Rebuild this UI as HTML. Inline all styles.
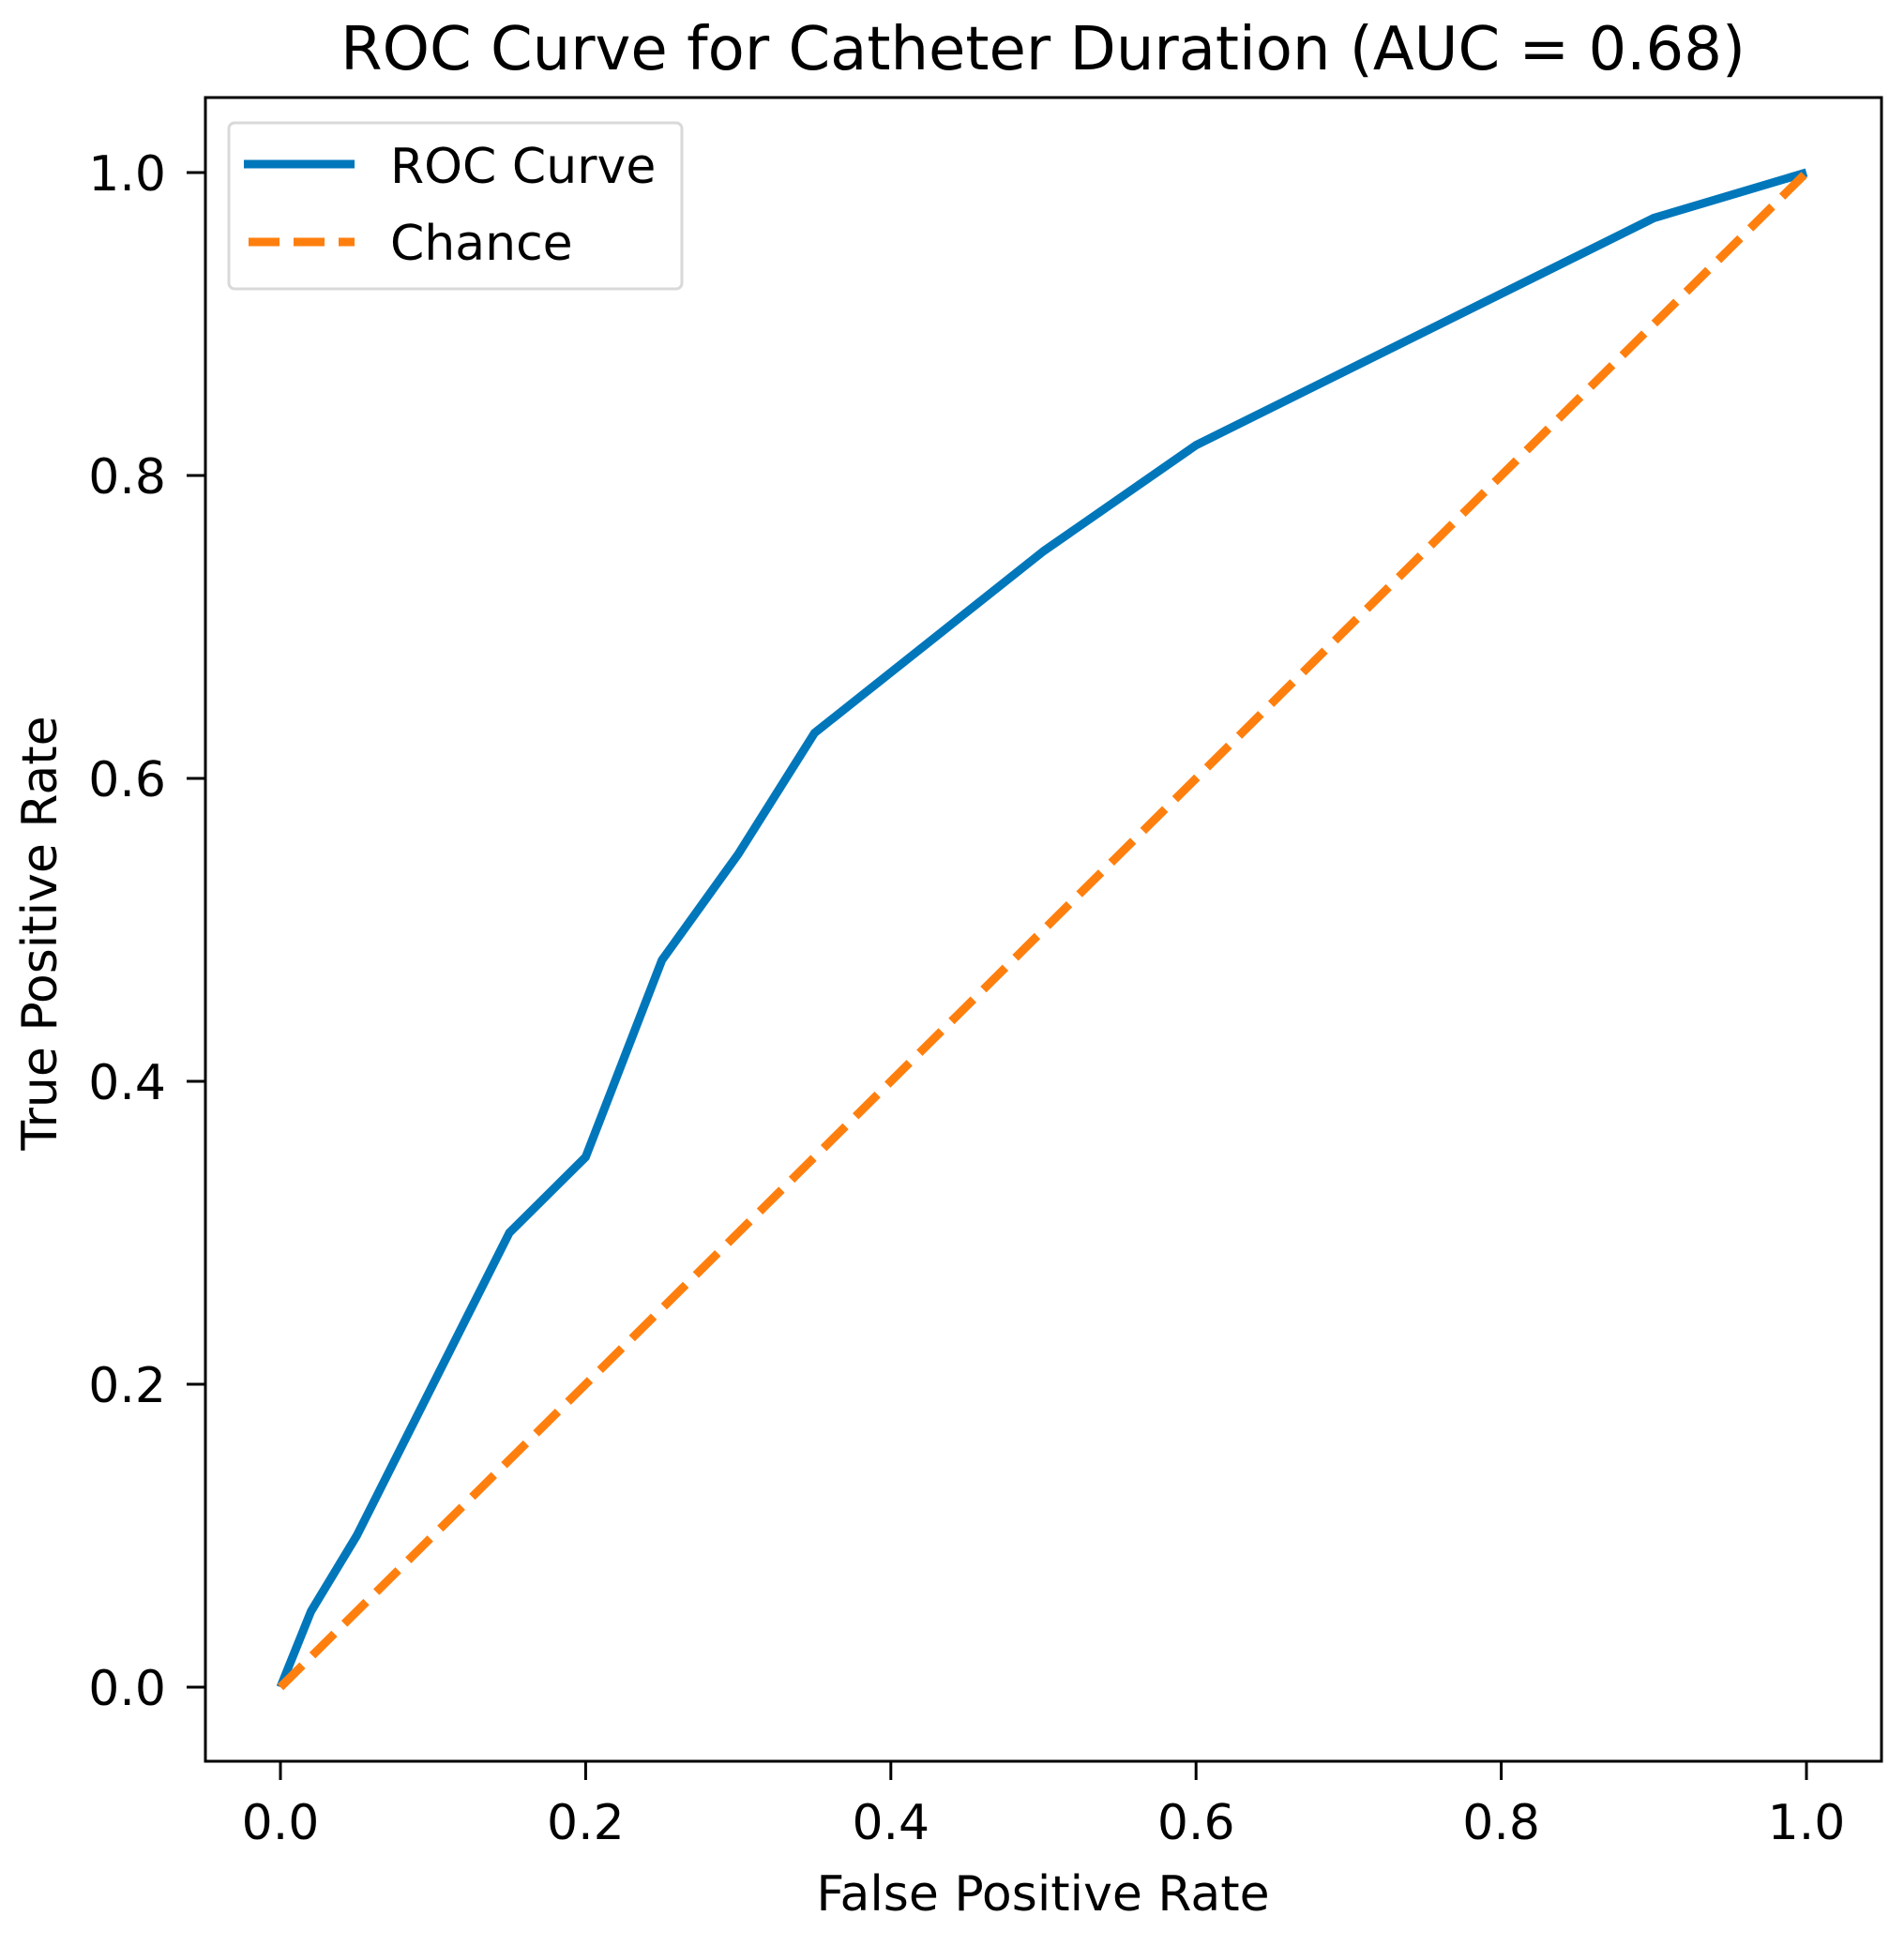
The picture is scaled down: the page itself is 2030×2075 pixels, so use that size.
<!DOCTYPE html>
<html><head><meta charset="utf-8"><style>
html,body{margin:0;padding:0;background:#fff;}
svg text{font-family:"DejaVu Sans","Liberation Sans",sans-serif;fill:#000;}
</style></head><body>
<svg id="chart" width="2030" height="2070" viewBox="0 0 2030 2070" xmlns="http://www.w3.org/2000/svg">
<rect width="2030" height="2070" fill="#fff"/>
<text x="1112" y="74" font-size="64" text-anchor="middle">ROC Curve for Catheter Duration (AUC = 0.68)</text>
<g id="plot"></g>
<rect x="219" y="104" width="1787" height="1774" fill="none" stroke="#000" stroke-width="3"/>
<g id="ticks"></g>
<text x="1112" y="2037" font-size="52" text-anchor="middle">False Positive Rate</text>
<text x="0" y="0" font-size="52" text-anchor="middle" transform="translate(60,995) rotate(-90)">True Positive Rate</text>
<g>
<rect x="244" y="131" width="483" height="177" rx="6" fill="#fff" stroke="#d9d9d9" stroke-width="3"/>
<line x1="260" y1="175" x2="378" y2="175" stroke="#0077bb" stroke-width="9"/>
<text x="416" y="195" font-size="52">ROC Curve</text>
<line x1="265" y1="258" x2="378" y2="258" stroke="#ff7f0e" stroke-width="9" stroke-dasharray="33,15"/>
<text x="416" y="277" font-size="52">Chance</text>
</g>
</svg>
<script>
const fprValues = [0, 0.02, 0.05, 0.15, 0.2, 0.25, 0.3, 0.35, 0.5, 0.6, 0.9, 1.0];
const tprValues = [0, 0.05, 0.1, 0.3, 0.35, 0.48, 0.55, 0.63, 0.75, 0.82, 0.97, 1.0];
const chanceX = [0, 1];
const chanceY = [0, 1];
const xTickLabels = ["0.0","0.2","0.4","0.6","0.8","1.0"];
const yTickLabels = ["0.0","0.2","0.4","0.6","0.8","1.0"];

const NS = "http://www.w3.org/2000/svg";
const X0 = 299, X1 = 1926, Y0 = 1799, Y1 = 184;
function sx(v){ return X0 + v * (X1 - X0); }
function sy(v){ return Y0 - v * (Y0 - Y1); }
const plot = document.getElementById('plot');
const ticks = document.getElementById('ticks');

const chance = document.createElementNS(NS, 'polyline');
chance.setAttribute('points', chanceX.map((x,i)=>sx(x)+','+sy(chanceY[i])).join(' '));
chance.setAttribute('fill','none'); chance.setAttribute('stroke','#ff7f0e');
chance.setAttribute('stroke-width','9'); chance.setAttribute('stroke-dasharray','33,15');



const roc = document.createElementNS(NS, 'polyline');
roc.setAttribute('points', fprValues.map((x,i)=>sx(x)+','+sy(tprValues[i])).join(' '));
roc.setAttribute('fill','none'); roc.setAttribute('stroke','#0077bb');
roc.setAttribute('stroke-width','9'); roc.setAttribute('stroke-linejoin','round');


plot.appendChild(roc);
plot.appendChild(chance);

xTickLabels.forEach(lbl => {
  const v = parseFloat(lbl), x = sx(v);
  const t = document.createElementNS(NS,'line');
  t.setAttribute('x1',x); t.setAttribute('x2',x); t.setAttribute('y1',1878); t.setAttribute('y2',1898);
  t.setAttribute('stroke','#000'); t.setAttribute('stroke-width','3');
  
  
  ticks.appendChild(t);
  const tx = document.createElementNS(NS,'text');
  tx.setAttribute('x',x); tx.setAttribute('y',1961); tx.setAttribute('font-size','52'); tx.setAttribute('text-anchor','middle');
  tx.textContent = lbl;
  
  
  ticks.appendChild(tx);
});
yTickLabels.forEach(lbl => {
  const v = parseFloat(lbl), y = sy(v);
  const t = document.createElementNS(NS,'line');
  t.setAttribute('x1',199); t.setAttribute('x2',219); t.setAttribute('y1',y); t.setAttribute('y2',y);
  t.setAttribute('stroke','#000'); t.setAttribute('stroke-width','3');
  
  
  ticks.appendChild(t);
  const tx = document.createElementNS(NS,'text');
  tx.setAttribute('x',177); tx.setAttribute('y',y+19); tx.setAttribute('font-size','52'); tx.setAttribute('text-anchor','end');
  tx.textContent = lbl;
  
  
  ticks.appendChild(tx);
});
</script>
</body></html>
